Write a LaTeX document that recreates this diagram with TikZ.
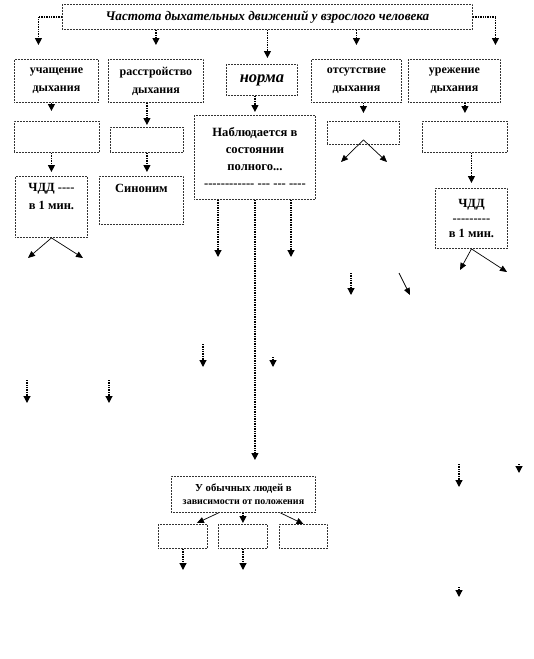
\documentclass[tikz,border=0pt]{standalone}
\usepackage{fontspec}
\setmainfont{Liberation Serif}
\usetikzlibrary{arrows.meta}
\newcommand\hh[1]{\foreach \k in {1,...,#1}{\mbox{-}}}
\begin{document}
\begin{tikzpicture}[x=1pt,y=-1pt,
  box/.style={draw=black!80, dash pattern=on 0.9pt off 0.6pt, line width=0.9pt, anchor=north west, inner sep=1pt, align=center, fill=white},
  conn/.style={dash pattern=on 1pt off 0.7pt, line width=1.2pt, -{Triangle[length=7pt,width=7pt]}},
  sconn/.style={line width=0.7pt, -{Triangle[length=7pt,width=6pt]}},
  lab/.style={font=\fontsize{12}{18}\selectfont\bfseries},
  gap/.style={shorten >=#1}]
\useasboundingbox (0,0) rectangle (534,659);
% boxes
\node[box, minimum width=410pt, minimum height=25pt, font=\fontsize{13.2}{15}\selectfont\bfseries\itshape] (top) at (62,4) {Частота дыхательных движений у взрослого человека};
\node[box, lab, minimum width=84pt, minimum height=43pt] (u1) at (14,59) {учащение\\дыхания};
\node[box, lab, minimum width=95pt, minimum height=43pt] (r1) at (108,59) {расстройство\\дыхания};
\node[box, minimum width=71pt, minimum height=31pt, font=\fontsize{16.5}{18}\selectfont\bfseries\itshape] (n1) at (226,64) {норма};
\node[box, lab, minimum width=90pt, minimum height=43pt] (o1) at (311,59) {отсутствие\\дыхания};
\node[box, lab, minimum width=92pt, minimum height=43pt] (e1) at (408,59) {урежение\\дыхания};
\node[box, minimum width=85pt, minimum height=31pt] (u2) at (14,121) {};
\node[box, minimum width=73pt, minimum height=25pt] (r2) at (110,127) {};
\node[box, minimum width=121pt, minimum height=84pt, font=\fontsize{12.6}{17}\selectfont\bfseries] (n2) at (194,115) {Наблюдается в\\состоянии\\полного...\\\hh{12} \hh{3} \hh{3} \hh{4}};
\node[box, minimum width=72pt, minimum height=23pt] (o2) at (327,121) {};
\node[box, minimum width=85pt, minimum height=31pt] (e2) at (422,121) {};
\node[box, minimum width=72pt, minimum height=61pt] (u3) at (15,176) {};
\node[anchor=north, align=center, font=\fontsize{12.5}{18}\selectfont\bfseries] (u3t) at ([yshift=-4pt]u3.north) {ЧДД \hh{4}\\в 1 мин.};
\node[box, minimum width=84pt, minimum height=48pt] (r3) at (99,176) {};
\node[anchor=north, align=center, font=\fontsize{12.5}{18}\selectfont\bfseries] (r3t) at ([yshift=-5pt]r3.north) {Синоним};
\node[box, minimum width=72pt, minimum height=60pt, font=\fontsize{12.5}{15}\selectfont\bfseries] (e3) at (435,188) {ЧДД\\\hh{9}\\в 1 мин.};
\node[box, minimum width=144pt, minimum height=36pt, font=\fontsize{10.7}{13}\selectfont\bfseries] (b0) at (171,476) {У обычных людей в\\{\fontsize{10}{11}\selectfont зависимости от положения}};
\node[box, minimum width=49pt, minimum height=24pt] (b1) at (158,524) {};
\node[box, minimum width=49pt, minimum height=24pt] (b2) at (218,524) {};
\node[box, minimum width=48pt, minimum height=24pt] (b3) at (279,524) {};
% free ends
\coordinate (o2l) at (341,162); \coordinate (o2r) at (387,162);
\coordinate (u3l) at (28,258); \coordinate (u3r) at (83,258);
\coordinate (e3l) at (460,270); \coordinate (e3r) at (507,272);
\coordinate (n2l) at (218,257); \coordinate (n2r) at (291,257);
\coordinate (b1d) at (183,570); \coordinate (b2d) at (243,570);
\coordinate (f1a) at (351,273); \coordinate (f1b) at (351,295);
\coordinate (f2a) at (399,273); \coordinate (f2b) at (410,295);
\coordinate (f3a) at (203,344); \coordinate (f3b) at (203,367);
\coordinate (f4a) at (273,357); \coordinate (f4b) at (273,367);
\coordinate (f5a) at (27,380);  \coordinate (f5b) at (27,403);
\coordinate (f6a) at (109,380); \coordinate (f6b) at (109,403);
\coordinate (f7a) at (459,464); \coordinate (f7b) at (459,487);
\coordinate (f8a) at (519,464); \coordinate (f8b) at (519,473);
\coordinate (f9a) at (459,587); \coordinate (f9b) at (459,597);
% top connectors
\draw[conn] (top.west) -| ([xshift=-18pt,yshift=14pt]u1.north);
\draw[conn] (top.east) -| ([xshift=41pt,yshift=14pt]e1.north);
\draw[conn] (top.south -| r1.north) -- ([yshift=14pt]r1.north);
\draw[conn,gap=6pt] (top.south) -- (top.south |- n1.north);
\draw[conn] (top.south -| o1.north) -- ([yshift=14pt]o1.north);
% row 2 -> row 3
\draw[conn,gap=10pt] (u1.south -| u3.north) -- (u3.north |- u2.north);
\draw[conn,gap=2pt] (r1.south -| r2.north) -- (r2.north);
\draw[conn,gap=3pt] (n1.south -| n2.north) -- (n2.north);
\draw[conn,gap=8pt] (o1.south -| o2.north) -- (o2.north);
\draw[conn,gap=8pt] (e1.south -| e2.north) -- (e2.north);
% row 3 -> row 4
\draw[conn,gap=4pt] (u2.south -| u3.north) -- (u3.north);
\draw[conn,gap=4pt] (r2.south) -- (r2.south |- r3.north);
\draw[conn,gap=5pt] (e2.south -| e3.north) -- (e3.north);
% diagonals
\draw[sconn] ([yshift=5pt]o2.south) -- (o2l);
\draw[sconn] ([yshift=5pt]o2.south) -- (o2r);
\draw[sconn] (u3.south) -- (u3l);
\draw[sconn] (u3.south) -- (u3r);
\draw[sconn] (e3.south) -- (e3l);
\draw[sconn] (e3.south) -- (e3r);
% from n2
\draw[conn] (n2.south -| n2l) -- (n2l);
\draw[conn] (n2.south -| n2r) -- (n2r);
\draw[conn,gap=16pt] (n2.south) -- (n2.south |- b0.north);
% bottom group
\draw[sconn] ([xshift=-25pt]b0.south) -- ([xshift=14pt,yshift=1pt]b1.north);
\draw[conn,gap=1pt] (b0.south -| b2.north) -- (b2.north);
\draw[sconn] ([xshift=37pt]b0.south) -- (b3.north);
\draw[conn] (b1.south -| b1d) -- (b1d);
\draw[conn] (b2.south -| b2d) -- (b2d);
% floating arrows
\draw[conn] (f1a) -- (f1b);
\draw[sconn] (f2a) -- (f2b);
\draw[conn] (f3a) -- (f3b);
\draw[conn] (f4a) -- (f4b);
\draw[conn] (f5a) -- (f5b);
\draw[conn] (f6a) -- (f6b);
\draw[conn] (f7a) -- (f7b);
\draw[conn] (f8a) -- (f8b);
\draw[conn] (f9a) -- (f9b);
\end{tikzpicture}
\end{document}
